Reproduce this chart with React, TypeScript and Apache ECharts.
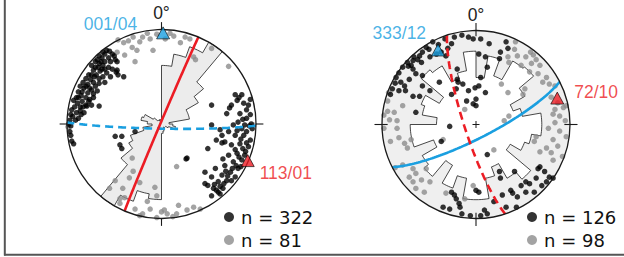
import React, { useEffect, useRef } from "react";
import * as echarts from "echarts";

const BLUE = "#1a9fe0";
const RED = "#ec1c24";
const GRAY = "#8c8c8c";
const D2R = Math.PI / 180;

// ---------- data (normalised stereonet coordinates, unit circle) ----------
const leftBlack: number[][] = [
  [-0.58,0.78],[-0.55,0.77],[-0.6,0.74],[-0.52,0.74],[-0.5,0.72],[-0.56,0.7],[-0.63,0.7],[-0.47,0.66],
  [-0.68,0.68],[-0.66,0.64],[-0.62,0.62],[-0.7,0.6],[-0.6,0.58],[-0.65,0.56],[-0.72,0.57],[-0.56,0.6],
  [-0.52,0.58],[-0.58,0.54],[-0.74,0.62],[-0.69,0.52],[-0.62,0.5],[-0.54,0.5],[-0.48,0.55],
  [-0.77,0.52],[-0.8,0.48],[-0.75,0.47],[-0.72,0.44],[-0.78,0.42],[-0.83,0.44],[-0.7,0.4],[-0.66,0.43],
  [-0.6,0.44],[-0.74,0.36],[-0.82,0.38],[-0.86,0.4],[-0.68,0.35],[-0.78,0.33],
  [-0.88,0.34],[-0.85,0.3],[-0.8,0.28],[-0.9,0.28],[-0.76,0.26],[-0.84,0.24],[-0.89,0.22],[-0.72,0.28],
  [-0.93,0.25],[-0.8,0.2],[-0.86,0.18],[-0.74,0.2],[-0.66,0.19],[-0.79,0.19],
  [-0.92,0.18],[-0.95,0.15],[-0.9,0.12],[-0.85,0.1],[-0.94,0.08],[-0.88,0.06],[-0.96,0.1],[-0.82,0.12],
  [-0.97,0.04],[-0.98,0.0],[-0.96,-0.02],[-0.97,-0.08],[-0.96,-0.12],[-0.95,-0.18],[-0.93,-0.21],
  [-0.64,0.66],[-0.6,0.66],[-0.54,0.66],[-0.67,0.6],[-0.63,0.58],[-0.71,0.5],[-0.66,0.48],[-0.74,0.52],
  [-0.8,0.4],[-0.76,0.38],[-0.72,0.32],[-0.84,0.34],[-0.88,0.28],[-0.83,0.18],[-0.77,0.24],[-0.91,0.04],
  [-0.86,0.14],[-0.62,0.76],[-0.66,0.72],[-0.7,0.66],[-0.49,0.68],[-0.47,0.57],
  [-0.46,0.52],[-0.4,0.5],[-0.49,-0.13],[-0.42,-0.13],[-0.44,-0.22],[-0.42,-0.26],[-0.28,-0.08],
  [0.85,0.31],[0.78,0.31],[0.94,0.26],[0.92,0.2],[0.9,0.15],[0.94,0.1],[0.83,0.11],[0.74,0.2],[0.69,0.11],
  [0.53,0.2],[0.53,-0.01],[0.81,0.02],[0.88,-0.01],[0.96,-0.05],[0.76,-0.01],[0.71,-0.08],[0.64,-0.12],
  [0.58,-0.17],[0.49,-0.26],[0.26,-0.37],[0.78,-0.12],[0.87,-0.12],[0.94,-0.17],[0.83,-0.21],[0.74,-0.22],
  [0.89,-0.29],[0.8,-0.31],[0.71,-0.33],[0.85,-0.38],[0.76,-0.4],[0.67,-0.44],[0.81,-0.47],[0.73,-0.51],
  [0.64,-0.54],[0.78,-0.56],[0.69,-0.6],[0.6,-0.61],[0.53,-0.56],[0.49,-0.65],[0.58,-0.7],[0.65,-0.68],
  [0.53,-0.76],[0.62,-0.74],[0.46,-0.51],[0.57,-0.47],[0.65,-0.37],[0.67,-0.19],[0.9,0.06],[0.62,-0.06],
  [0.72,0.17],[0.8,0.25],[0.82,0.28],[0.64,-0.2],[0.46,-0.63],[0.55,-0.68],[0.27,-0.36],
  [0.9,-0.08],[0.85,-0.05],[0.92,-0.24],[0.86,-0.26],[0.9,-0.2],[0.82,-0.35],[0.88,-0.33],[0.79,-0.44],
  [0.84,-0.45],[0.75,-0.47],[0.7,-0.55],[0.74,-0.6],[0.66,-0.63],[0.62,-0.66],[0.56,-0.64],[0.6,-0.72],
  [0.68,-0.5],[0.78,-0.27],[0.84,-0.16],[0.93,-0.02],[0.86,0.05],[0.8,-0.07],[0.95,0.0],[0.87,0.22],
];
const leftGray: number[][] = [
  [-0.46,0.89],[-0.4,0.86],[-0.35,0.88],[-0.31,0.81],[-0.23,0.87],[-0.2,0.92],[-0.15,0.96],[-0.09,0.78],
  [-0.26,0.78],[-0.28,0.66],[-0.39,0.73],[-0.47,0.76],[0.09,0.96],[0.13,0.93],[0.2,0.86],[0.25,0.92],
  [0.3,0.9],[0.34,0.71],[0.36,0.68],[0.53,0.8],[0.71,0.61],[-0.12,0.9],[-0.3,0.92],[-0.05,0.95],[0.04,0.9],
  [-0.31,-0.36],[-0.34,-0.57],[-0.41,-0.68],[-0.55,-0.68],[-0.44,-0.79],[-0.23,-0.97],[-0.05,-0.76],
  [-0.05,-0.99],[-0.39,-0.78],[-0.28,-0.9],[-0.2,-0.95],[0.06,-0.95],[0.16,-0.95],[0.27,-0.91],[0.41,-0.9],
  [-0.07,-0.67],[-0.23,-0.62],[-0.49,-0.6],[-0.44,-0.84],[0.12,-0.98],[0.34,-0.88],[-0.12,-0.9],[0.0,-0.93],
  [0.16,-0.45],[0.18,-0.86],[0.03,-0.91],[-0.3,-0.5],[-0.15,-0.82],[0.97,-0.01],[-0.99,-0.03],
];
const rightBlack: number[][] = [
  [-0.46,0.88],[-0.33,0.91],[-0.26,0.86],[-0.3,0.81],[-0.23,0.93],[-0.15,0.95],[-0.08,0.93],[-0.03,0.91],
  [-0.53,0.82],[-0.57,0.77],[-0.6,0.73],[-0.66,0.72],[-0.67,0.68],[-0.73,0.66],[-0.69,0.63],[-0.78,0.61],
  [-0.82,0.55],[-0.85,0.5],[-0.8,0.45],[-0.76,0.41],[-0.75,0.36],[-0.89,0.38],[-0.91,0.32],[-0.82,0.36],
  [-0.71,0.48],[-0.64,0.54],[-0.67,0.59],[-0.58,0.66],[-0.49,0.72],[-0.42,0.75],[-0.37,0.77],[-0.32,0.73],
  [-0.57,0.52],[-0.39,0.45],[-0.19,0.45],[-0.14,0.43],[-0.21,0.38],[-0.08,0.36],[-0.01,0.39],[-0.1,0.25],
  [-0.03,0.22],[-0.28,-0.02],[-0.64,0.13],[-0.6,0.3],[-0.49,0.36],[-0.26,0.32],[-0.37,-0.18],[-0.26,-0.72],
  [-0.17,-0.88],[-0.35,-0.88],[-0.28,-0.9],[-0.15,-0.95],[-0.06,-0.97],[-0.21,-0.79],[0.03,-0.72],
  [0.05,0.91],[0.14,0.86],[0.32,0.88],[0.26,0.77],[0.34,0.81],[0.03,0.75],[0.1,0.72],[0.25,0.7],[0.12,0.61],
  [0.05,0.5],[0.1,0.34],[0.03,0.41],[0.0,0.27],[0.0,0.2],[-0.2,0.48],[-0.2,0.59],
  [-0.86,0.44],[-0.72,0.62],[-0.62,0.69],[-0.5,0.8],[-0.4,0.85],[-0.67,0.3],[-0.57,0.41],
  [0.12,-0.32],[0.25,-0.5],[0.41,-0.5],[0.66,-0.47],[0.73,-0.5],[0.64,-0.57],[0.75,-0.61],[0.7,-0.65],
  [0.82,-0.57],[0.57,-0.63],[0.48,-0.65],[0.53,-0.72],[0.44,-0.77],[0.43,-0.88],[0.32,-0.88],[0.19,-0.82],
  [0.28,-0.75],[0.12,-0.95],[0.05,-0.97],[0.37,-0.7],[0.62,-0.72],[0.39,-0.73],[0.53,-0.61],[0.68,-0.45],
  [0.78,-0.56],[0.26,-0.57],[-0.23,-0.75],[-0.18,-0.84],[0.09,-0.91],[0.0,-0.7],
];
const rightGray: number[][] = [
  [-0.93,0.34],[-0.94,0.14],[-0.98,0.1],[-0.87,0.13],[-0.92,0.05],[-0.84,0.04],[-0.98,-0.04],[-0.84,-0.04],
  [-0.82,-0.14],[-0.91,-0.18],[-0.76,-0.2],[-0.69,-0.16],[-0.73,-0.25],[-0.78,-0.43],[-0.67,-0.47],
  [-0.64,-0.52],[-0.71,-0.56],[-0.53,-0.47],[-0.49,-0.61],[-0.67,-0.61],[-0.64,-0.68],[-0.55,-0.72],
  [-0.32,-0.73],[-0.12,-0.79],[-0.03,-0.65],[-0.12,0.16],[-0.35,-0.16],[-0.94,0.25],[-0.86,-0.46],
  [-0.78,0.2],[-0.58,-0.59],
  [0.34,0.72],[0.44,0.73],[0.53,0.72],[0.61,0.74],[0.64,0.69],[0.35,0.66],[0.48,0.63],[0.59,0.65],
  [0.68,0.63],[0.57,0.56],[0.66,0.54],[0.75,0.5],[0.71,0.45],[0.78,0.43],[0.84,0.41],[0.52,0.38],
  [0.5,0.32],[0.34,0.34],[0.27,0.43],[0.8,0.29],[0.87,0.23],[0.93,0.18],[0.96,0.2],[0.84,0.16],
  [0.82,0.11],[0.89,0.09],[0.95,0.04],[0.84,0.02],[0.77,-0.04],[0.89,-0.07],[0.96,-0.13],[0.82,-0.16],
  [0.75,-0.25],[0.87,-0.23],[0.64,-0.13],[0.62,-0.18],[0.68,-0.29],[0.8,-0.3],[0.82,-0.38],[0.92,-0.34],
  [0.3,0.04],[0.35,0.09],[0.19,-0.27],[0.42,0.88],[0.58,0.77],[0.41,0.8],
];

// rose diagrams: relative petal length for 10° bins starting at 0° (N), clockwise
const leftRose = [0.62,0.75,0.87,1.0,0.58,0.45,0.3,0.3,0.08,0.12,0.15,0.08,0.05,0.05,0.04,0.06,0.08,0.1,
                  0.8,0.75,0.87,1.0,0.56,0.4,0.35,0.2,0.1,0.15,0.22,0.2,0.1,0.05,0.04,0.05,0.04,0.05];
const rightRose = [0.5,0.74,0.55,0.78,0.8,0.6,0.42,0.5,0.7,0.7,0.6,0.55,0.42,0.76,0.66,0.48,0.58,0.8,
                   0.8,0.58,0.72,0.5,0.72,0.66,0.48,0.7,0.7,0.42,0.58,0.62,0.45,0.76,0.72,0.52,0.58,0.78];

// poles to the planes (trend / plunge, degrees)
const leftPoleTrend = [1, 113];
const leftPolePlunge = [4, 1];
const leftPoleLabel = ["001/04", "113/01"];
const rightPoleTrend = [333, 72];
const rightPolePlunge = [12, 10];
const rightPoleLabel = ["333/12", "72/10"];
const leftCount = ["n = 322", "n = 81"];
const rightCount = ["n = 126", "n = 98"];

// ---------- geometry helpers (Schmidt equal-area, lower hemisphere) ----------
function project(trend: number, plunge: number): number[] {
  const r = Math.SQRT2 * Math.sin(((90 - plunge) * D2R) / 2);
  return [r * Math.sin(trend * D2R), r * Math.cos(trend * D2R)];
}
function greatCircle(poleTrend: number, polePlunge: number): number[][] {
  const dd = (poleTrend + 180) * D2R;
  const dip = (90 - polePlunge) * D2R;
  const s = dd - Math.PI / 2;
  const out: number[][] = [];
  for (let t = 0; t <= 180; t += 2) {
    const tr = t * D2R;
    const n = Math.cos(tr) * Math.cos(s) + Math.sin(tr) * Math.cos(dd) * Math.cos(dip);
    const e = Math.cos(tr) * Math.sin(s) + Math.sin(tr) * Math.sin(dd) * Math.cos(dip);
    const d = Math.sin(tr) * Math.sin(dip);
    const pl = Math.asin(Math.max(-1, Math.min(1, d)));
    const r = Math.SQRT2 * Math.sin((Math.PI / 2 - pl) / 2);
    const h = Math.hypot(n, e) || 1;
    out.push([(r * e) / h, (r * n) / h]);
  }
  return out;
}

const PANELS = [
  { cx: 161.5, cy: 124, R: 94.5, bg: "#ffffff", rose: "#ececec", tickIn: 1.0, tickOut: 1.078, cross: false,
    black: leftBlack, gray: leftGray, roseR: leftRose, trends: leftPoleTrend, plunges: leftPolePlunge,
    labels: leftPoleLabel, counts: leftCount, dashed: [true, false],
    labelPos: ["left", "right"], labelOff: [[-19, -8.5], [5, 12.5]], legendLeft: 224 },
  { cx: 476, cy: 124.5, R: 94, bg: "#efefef", rose: "#ffffff", tickIn: 0.94, tickOut: 1.08, cross: true,
    black: rightBlack, gray: rightGray, roseR: rightRose, trends: rightPoleTrend, plunges: rightPolePlunge,
    labels: rightPoleLabel, counts: rightCount, dashed: [false, true],
    labelPos: ["left", "right"], labelOff: [[-5, -17], [10, -6.5]], legendLeft: 527 },
];
const EXT = 1.2;
const POLE_COLORS = [BLUE, RED];

function buildOption() {
  const grid: any[] = [], xAxis: any[] = [], yAxis: any[] = [], series: any[] = [], legend: any[] = [];
  PANELS.forEach((p, i) => {
    grid.push({ left: p.cx - EXT * p.R, top: p.cy - EXT * p.R, width: 2 * EXT * p.R, height: 2 * EXT * p.R });
    xAxis.push({ type: "value", gridIndex: i, min: -EXT, max: EXT, show: false });
    yAxis.push({ type: "value", gridIndex: i, min: -EXT, max: EXT, show: false });
    const ax = { xAxisIndex: i, yAxisIndex: i };

    series.push({
      type: "custom", ...ax, z: 1, silent: true, data: [[0, 0]],
      renderItem: (_: any, api: any) => {
        const c = api.coord([0, 0]);
        const r = api.size([1, 0])[0];
        return { type: "circle", shape: { cx: c[0], cy: c[1], r }, style: { fill: p.bg } };
      },
    });
    series.push({
      type: "custom", ...ax, z: 2, silent: true, data: [[0, 0]],
      renderItem: (_: any, api: any) => {
        const pts: number[][] = [];
        const n = p.roseR.length, w = 360 / n;
        for (let k = 0; k < n; k++) {
          const rr = p.roseR[k];
          for (let j = 0; j <= 5; j++) {
            const a = (k * w + (j * w) / 5) * D2R;
            pts.push(api.coord([rr * Math.sin(a), rr * Math.cos(a)]));
          }
        }
        return { type: "polygon", shape: { points: pts }, style: { fill: p.rose, stroke: "#1a1a1a", lineWidth: 0.8 } };
      },
    });
    series.push({ type: "scatter", ...ax, z: 3, name: p.counts[1], symbol: "circle", symbolSize: 5.5,
      itemStyle: { color: GRAY }, data: p.gray, silent: true });
    series.push({ type: "scatter", ...ax, z: 3, name: p.counts[0], symbol: "circle", symbolSize: 5.5,
      itemStyle: { color: "#000" }, data: p.black, silent: true });
    p.trends.forEach((t, k) => {
      series.push({
        type: "line", ...ax, z: 4, showSymbol: false, silent: true, clip: false,
        data: greatCircle(t, p.plunges[k]),
        lineStyle: { color: POLE_COLORS[k], width: 2.6, type: p.dashed[k] ? [8, 5] : "solid" },
      });
    });
    series.push({
      type: "custom", ...ax, z: 5, silent: true, data: [[0, 0]],
      renderItem: (_: any, api: any) => {
        const c = api.coord([0, 0]);
        const r = api.size([1, 0])[0];
        const children: any[] = [
          { type: "circle", shape: { cx: c[0], cy: c[1], r }, style: { fill: "none", stroke: "#1a1a1a", lineWidth: 1.3 } },
        ];
        [0, 90, 180, 270].forEach((deg) => {
          const a = deg * D2R;
          const p1 = api.coord([p.tickIn * Math.sin(a), p.tickIn * Math.cos(a)]);
          const p2 = api.coord([p.tickOut * Math.sin(a), p.tickOut * Math.cos(a)]);
          children.push({ type: "line", shape: { x1: p1[0], y1: p1[1], x2: p2[0], y2: p2[1] }, style: { stroke: "#1a1a1a", lineWidth: 1.1 } });
        });
        if (p.cross) {
          const s = 3.5;
          children.push({ type: "line", shape: { x1: c[0] - s, y1: c[1], x2: c[0] + s, y2: c[1] }, style: { stroke: "#1a1a1a", lineWidth: 1 } });
          children.push({ type: "line", shape: { x1: c[0], y1: c[1] - s, x2: c[0], y2: c[1] + s }, style: { stroke: "#1a1a1a", lineWidth: 1 } });
        }
        const t = api.coord([0, 1.17]);
        children.push({ type: "text", x: t[0], y: t[1], style: { text: "0°", fill: "#222", font: '17.5px "Liberation Sans"', align: "center", verticalAlign: "middle" } });
        return { type: "group", children };
      },
    });
    series.push({
      type: "scatter", ...ax, z: 6, silent: true, symbol: "triangle", symbolSize: [13, 12],
      data: p.trends.map((t, k) => ({
        value: project(t, p.plunges[k]),
        itemStyle: { color: POLE_COLORS[k], borderColor: "#000", borderWidth: 0.8 },
        label: {
          show: true, formatter: p.labels[k], position: p.labelPos[k], distance: 0, offset: p.labelOff[k],
          color: POLE_COLORS[k], fontFamily: "Liberation Sans", fontSize: 17.5,
        },
      })),
    });
    legend.push({
      data: p.counts, orient: "vertical", left: p.legendLeft, top: 208, padding: 0,
      itemWidth: 10, itemHeight: 10, itemGap: 5, icon: "circle", selectedMode: false,
      textStyle: { fontFamily: "DejaVu Sans", fontSize: 18, lineHeight: 18, color: "#111", padding: [0, 0, 0, 2] },
    });
  });

  return {
    animation: false,
    backgroundColor: "#fff",
    grid, xAxis, yAxis, series, legend,
    graphic: [
      { type: "line", shape: { x1: 4.8, y1: 0, x2: 4.8, y2: 255.5 }, style: { stroke: "#555", lineWidth: 2 } },
      { type: "line", shape: { x1: 4, y1: 254.7, x2: 624, y2: 254.7 }, style: { stroke: "#555", lineWidth: 2 } },
    ],
  };
}

export default function App() {
  const ref = useRef<HTMLDivElement>(null);
  useEffect(() => {
    if (!ref.current) return;
    const chart = echarts.init(ref.current, undefined, { renderer: "svg" });
    chart.setOption(buildOption() as any);
    return () => chart.dispose();
  }, []);
  return <div ref={ref} style={{ position: "fixed", left: 0, top: 0, width: 624, height: 257 }} />;
}
